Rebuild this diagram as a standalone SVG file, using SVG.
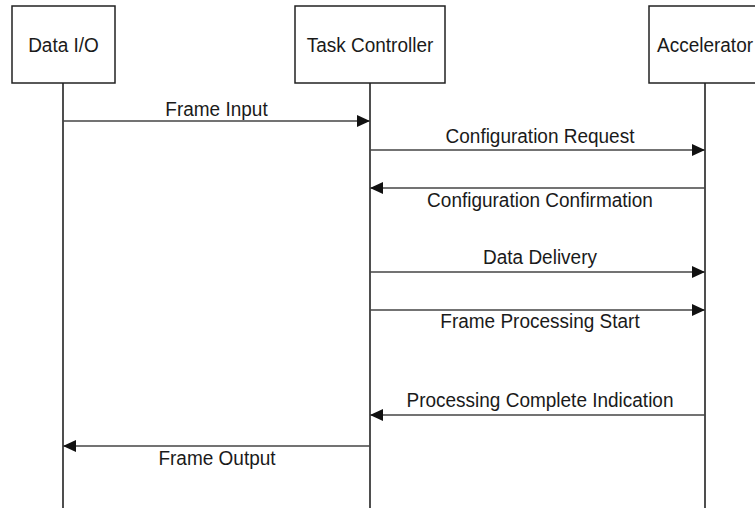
<svg xmlns="http://www.w3.org/2000/svg" width="755" height="508" viewBox="0 0 755 508">
<defs>
<style>
.box{fill:#fff;stroke:#222;stroke-width:1.5}
.life{stroke:#222;stroke-width:1.6;fill:none}
.msg{stroke:#444;stroke-width:1.4;fill:none}
text{font-family:"Liberation Sans",Arial,sans-serif;font-size:19px;fill:#1a1a1a;text-anchor:middle}
</style>
<marker id="ah" markerUnits="userSpaceOnUse" markerWidth="14" markerHeight="12" refX="13" refY="6" orient="auto">
<path d="M0,0 L13,6 L0,12 z" fill="#111"/>
</marker>
</defs>
<rect width="755" height="508" fill="#fff"/>
<g id="dataio">
<rect class="box" x="12" y="6" width="103" height="77"/>
<text transform="translate(63.5,52) scale(1,1.07)">Data I/O</text>
<line class="life" x1="63" y1="83" x2="63" y2="508"/>
</g>
<g id="taskcontroller">
<rect class="box" x="295" y="6" width="150" height="77"/>
<text transform="translate(370,52) scale(1,1.07)">Task Controller</text>
<line class="life" x1="370" y1="83" x2="370" y2="508"/>
</g>
<g id="accelerator">
<rect class="box" x="649" y="6" width="112" height="77"/>
<text transform="translate(705,52) scale(1,1.07)">Accelerator</text>
<line class="life" x1="705" y1="83" x2="705" y2="508"/>
</g>
<g id="connectors">
<line class="msg" x1="63" y1="121" x2="370" y2="121" marker-end="url(#ah)"/>
<text transform="translate(216.5,116) scale(1,1.07)">Frame Input</text>
<line class="msg" x1="370" y1="150" x2="705" y2="150" marker-end="url(#ah)"/>
<text transform="translate(540,143) scale(1,1.07)">Configuration Request</text>
<line class="msg" x1="705" y1="188" x2="370" y2="188" marker-end="url(#ah)"/>
<text transform="translate(540,206.5) scale(1,1.07)">Configuration Confirmation</text>
<line class="msg" x1="370" y1="272" x2="705" y2="272" marker-end="url(#ah)"/>
<text transform="translate(540,264) scale(1,1.07)">Data Delivery</text>
<line class="msg" x1="370" y1="310" x2="705" y2="310" marker-end="url(#ah)"/>
<text transform="translate(540,328) scale(1,1.07)">Frame Processing Start</text>
<line class="msg" x1="705" y1="415" x2="370" y2="415" marker-end="url(#ah)"/>
<text transform="translate(540,407) scale(1,1.07)">Processing Complete Indication</text>
<line class="msg" x1="370" y1="446" x2="63" y2="446" marker-end="url(#ah)"/>
<text transform="translate(217,465) scale(1,1.07)">Frame Output</text>
</g>
</svg>
